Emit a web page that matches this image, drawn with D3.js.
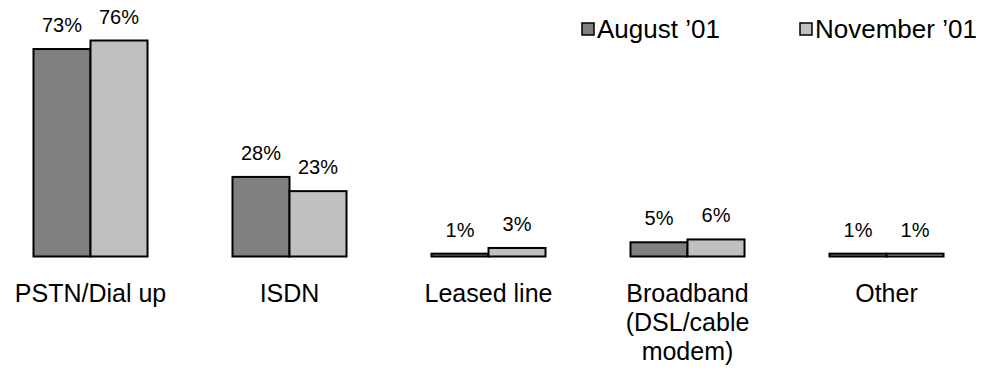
<!DOCTYPE html>
<html>
<head>
<meta charset="utf-8">
<script src="https://cdn.jsdelivr.net/npm/d3@7"></script>
<style>
  html, body { margin: 0; padding: 0; background: #fff; }
  svg { display: block; font-family: Arial, "Liberation Sans", sans-serif; }
</style>
</head>
<body>
<svg id="chart" width="982" height="372"></svg>
<script>
// Internet connection type, share of users
const categories = ["PSTN/Dial up", "ISDN", "Leased line", "Broadband\n(DSL/cable\nmodem)", "Other"];
const seriesNames = ["August \u201901", "November \u201901"];
const august = [73, 28, 1, 5, 1];
const november = [76, 23, 3, 6, 1];
const colors = ["#808080", "#c0c0c0"];

const svg = d3.select("#chart");

const x = d3.scaleBand()
  .domain(categories)
  .range([-9, 986])
  .paddingInner(0.427)
  .paddingOuter(0.2135);

const xs = d3.scaleBand()
  .domain(seriesNames)
  .range([0, x.bandwidth()]);

const y = d3.scaleLinear().domain([0, 100]).range([256.5, -27.7]);

const rows = categories.map((c, i) => ({
  cat: c,
  vals: [august[i], november[i]].map((v, j) => ({ name: seriesNames[j], v, j }))
}));

const groups = svg.selectAll("g.grp")
  .data(rows)
  .join("g")
  .attr("class", "grp")
  .attr("transform", d => `translate(${x(d.cat)},0)`);

groups.selectAll("rect")
  .data(d => d.vals)
  .join("rect")
  .attr("x", d => xs(d.name))
  .attr("y", d => y(d.v))
  .attr("width", xs.bandwidth())
  .attr("height", d => y(0) - y(d.v))
  .attr("fill", d => colors[d.j])
  .attr("stroke", "#000")
  .attr("stroke-width", 2);

groups.selectAll("text.val")
  .data(d => d.vals)
  .join("text")
  .attr("class", "val")
  .attr("x", d => xs(d.name) + xs.bandwidth() / 2)
  .attr("y", d => y(d.v) - 17)
  .attr("text-anchor", "middle")
  .attr("font-size", 20)
  .attr("fill", "#000")
  .text(d => d.v + "%");

// category labels below the baseline
groups.append("text")
  .attr("class", "cat")
  .attr("text-anchor", "middle")
  .attr("font-size", 25)
  .attr("fill", "#000")
  .selectAll("tspan")
  .data(d => d.cat.split("\n"))
  .join("tspan")
  .attr("x", x.bandwidth() / 2)
  .attr("y", (d, i) => 302 + i * 29)
  .text(d => d);

// legend
const legendX = [582, 800];
const legend = svg.selectAll("g.leg")
  .data(seriesNames)
  .join("g")
  .attr("class", "leg")
  .attr("transform", (d, i) => `translate(${legendX[i]},23)`);

legend.append("rect")
  .attr("width", 12)
  .attr("height", 12)
  .attr("fill", (d, i) => colors[i])
  .attr("stroke", "#000")
  .attr("stroke-width", 1.5);

legend.append("text")
  .attr("x", 15)
  .attr("y", 15)
  .attr("font-size", 26)
  .attr("fill", "#000")
  .text(d => d);
</script>
</body>
</html>
